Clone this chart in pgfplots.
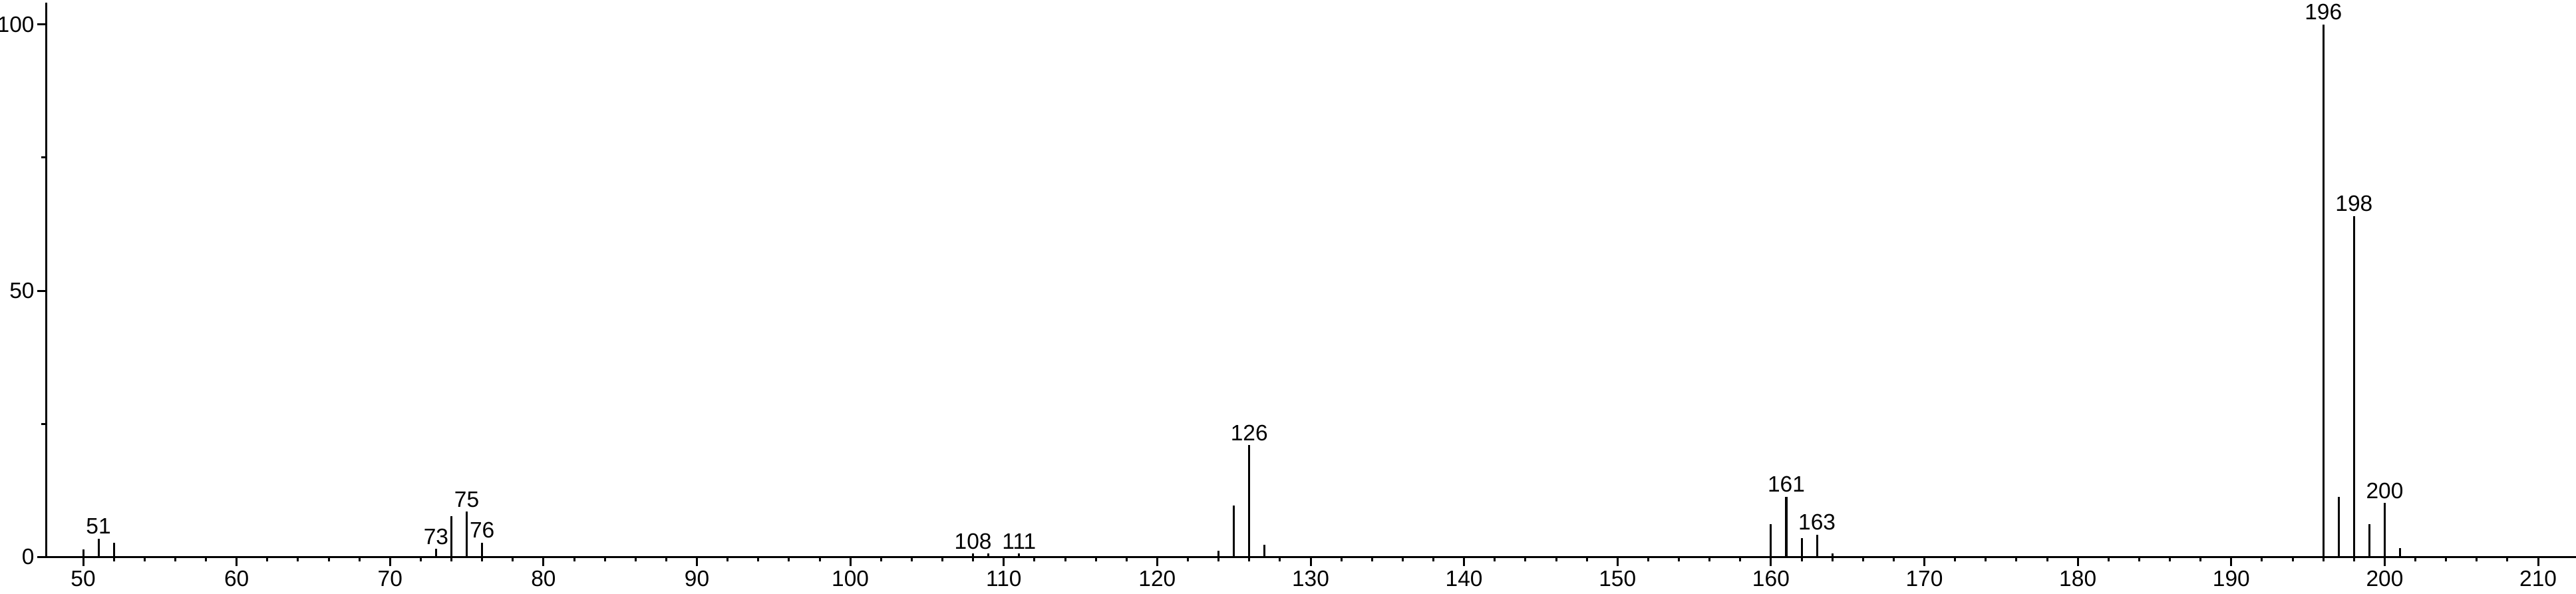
\documentclass[border=0pt]{standalone}
\usepackage{fontspec}
\setmainfont{Liberation Sans}
\usepackage{pgfplots}
\pgfplotsset{compat=1.18}
\begin{document}
\begin{tikzpicture}
\useasboundingbox (-20.6pt,-16.4pt) rectangle (1135.2pt,249.9pt);
\begin{axis}[
  at={(0,0)}, anchor=south west,
  scale only axis,
  width=1135.2pt, height=248.7pt,
  xmin=47.57, xmax=212.47,
  ymin=0, ymax=104.1,
  axis x line*=bottom, axis y line*=left,
  axis line style={line width=0.9pt, black},
  xtick={50,60,...,210},
  minor x tick num=4,
  ytick={0,50,100},
  minor y tick num=1,
  tick align=outside,
  major tick length=4pt,
  minor tick length=2pt,
  every tick/.style={black, line width=0.9pt},
  /pgf/number format/assume math mode=true,
  tick label style={font=\fontsize{10}{12}\selectfont},
  xticklabel style={inner sep=1pt, yshift=-1pt},
  yticklabel style={inner sep=1pt},
  clip=false,
]
\addplot[ycomb, black, line width=0.9pt, mark=none] coordinates {
(50,1.4) (51,3.4) (52,2.7)
(73,1.5) (74,7.7) (75,8.5) (76,2.7)
(108,0.6) (109,0.6) (111,0.6)
(124,1.1) (125,9.7) (126,21.0) (127,2.3)
(160,6.2) (161,11.3) (162,3.5) (163,4.2) (164,0.7)
(196,100) (197,11.3) (198,64) (199,6.2) (200,10.1) (201,1.6)
};
\addplot[draw=none, mark=none,
  point meta=explicit symbolic,
  nodes near coords,
  every node near coord/.style={anchor=south, inner sep=0pt, yshift=1.8pt, font=\fontsize{10}{12}\selectfont, black}]
  coordinates {
(51,3.4) [51]
(73,1.5) [73]
(75,8.5) [75]
(76,2.7) [76]
(108,0.6) [108]
(111,0.6) [111]
(126,21.0) [126]
(161,11.3) [161]
(163,4.2) [163]
(196,100) [196]
(198,64) [198]
(200,10.1) [200]
};
\end{axis}
\end{tikzpicture}
\end{document}
